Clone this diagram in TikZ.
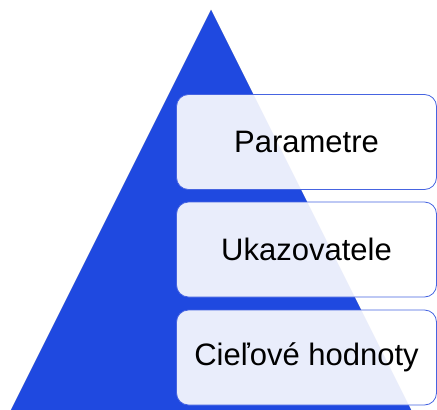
\documentclass[tikz,border=0pt]{standalone}
\usepackage{fontspec}
\setmainfont{Liberation Sans}
\begin{document}
\begin{tikzpicture}[x=1pt,y=-1pt,
  tri/.style={fill=triblue,draw=gray!40,line width=0.5pt},
  level/.style={draw=boxline,line width=0.8pt,fill=white,fill opacity=0.9,text opacity=1,rounded corners=12pt,minimum width=260pt,minimum height=95pt,inner sep=0pt,font=\fontsize{31}{36}\selectfont,text=black}]
\definecolor{triblue}{RGB}{31,73,224}
\definecolor{boxline}{RGB}{70,100,225}
\useasboundingbox (0,0) rectangle (437,410);
\fill[white] (0,0) rectangle (437,410);
\coordinate (apex) at (211,10);
\coordinate (bl) at (11,410);
\coordinate (br) at (411,410);
\draw[tri] (bl) -- (apex) -- (br);
\fill[triblue] (bl) -- (apex) -- (br) -- cycle;
\node[level] (p) at (306.5,142) {Parametre};
\node[level] (u) at (306.5,249.5) {Ukazovatele};
\node[level] (c) at (306.5,357.5) {Cieľové hodnoty};
\end{tikzpicture}
\end{document}
